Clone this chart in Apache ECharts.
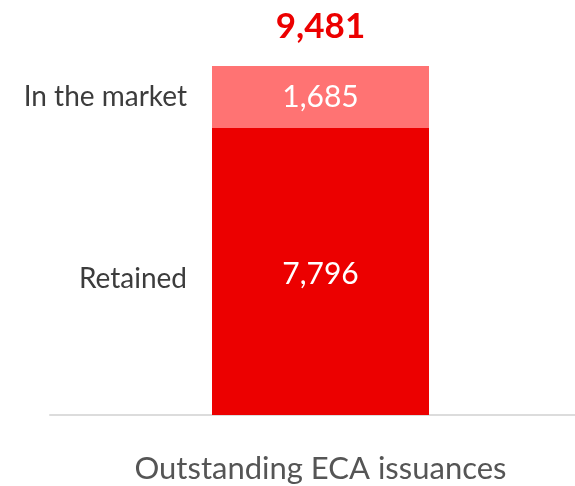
<!DOCTYPE html>
<html>
<head>
<meta charset="utf-8">
<script src="https://cdn.jsdelivr.net/npm/echarts@6/dist/echarts.min.js"></script>
<style>
  html, body { margin: 0; padding: 0; background: #fff; }
  #chart { width: 575px; height: 486px; }
</style>
</head>
<body>
<div id="chart"></div>
<script>
// Outstanding ECA issuances, split between retained and placed in the market
const categories = ['Outstanding ECA issuances'];
const retained = [7796];
const inTheMarket = [1685];
const total = [9481];

const FONT = 'Lato';
const fmt = v => Number(v).toLocaleString('en-US');

const chart = echarts.init(document.getElementById('chart'));
chart.setOption({
  animation: false,
  grid: [
    // plotting area for the stacked bar
    { left: 66, right: 0, top: 66, bottom: 71 },
    // wider strip that only carries the baseline rule
    { left: 50, right: 0, top: 66, bottom: 71 }
  ],
  xAxis: [
    {
      type: 'category', gridIndex: 0,
      data: categories,
      axisLine: { show: false },
      axisTick: { show: false },
      axisLabel: { color: '#555', fontSize: 31, fontFamily: FONT, margin: 38 }
    },
    {
      type: 'category', gridIndex: 1,
      data: categories,
      axisLine: { lineStyle: { color: '#dcdcdc', width: 2 } },
      axisTick: { show: false },
      axisLabel: { show: false }
    }
  ],
  yAxis: [
    { type: 'value', gridIndex: 0, min: 0, max: 9481, show: false, splitLine: { show: false } },
    { type: 'value', gridIndex: 1, min: 0, max: 9481, show: false, splitLine: { show: false } }
  ],
  series: [
    {
      name: 'Retained', type: 'bar', stack: 'main', barWidth: 217,
      data: retained,
      itemStyle: { color: '#ec0000' },
      label: { show: true, position: 'inside', offset: [0, 3], color: '#fff', fontSize: 30, fontFamily: FONT, formatter: p => fmt(p.value) }
    },
    {
      name: 'In the market', type: 'bar', stack: 'main', barWidth: 217,
      data: inTheMarket,
      itemStyle: { color: '#ff7373' },
      label: { show: true, position: 'inside', color: '#fff', fontSize: 30, fontFamily: FONT, formatter: p => fmt(p.value) }
    },
    // transparent twin stack carrying the series names on the left side
    {
      name: 'Retained name', type: 'bar', stack: 'names', barWidth: 217, barGap: '-100%',
      data: retained, silent: true,
      itemStyle: { color: 'rgba(0,0,0,0)' },
      label: { show: true, position: 'left', distance: 25, offset: [0, 7], color: '#3c3c3c', fontSize: 28, fontFamily: FONT, formatter: 'Retained' }
    },
    {
      name: 'In the market name', type: 'bar', stack: 'names', barWidth: 217, barGap: '-100%',
      data: inTheMarket, silent: true,
      itemStyle: { color: 'rgba(0,0,0,0)' },
      label: { show: true, position: 'left', distance: 25, color: '#3c3c3c', fontSize: 28, fontFamily: FONT, formatter: 'In the market' }
    },
    // total above the stack
    {
      name: 'Total', type: 'bar', barWidth: 217, barGap: '-100%',
      data: total, silent: true,
      itemStyle: { color: 'rgba(0,0,0,0)' },
      label: { show: true, position: 'top', distance: 22, color: '#ec0000', fontSize: 35, fontWeight: 'bold', fontFamily: FONT, formatter: p => fmt(p.value) }
    }
  ]
});
</script>
</body>
</html>
